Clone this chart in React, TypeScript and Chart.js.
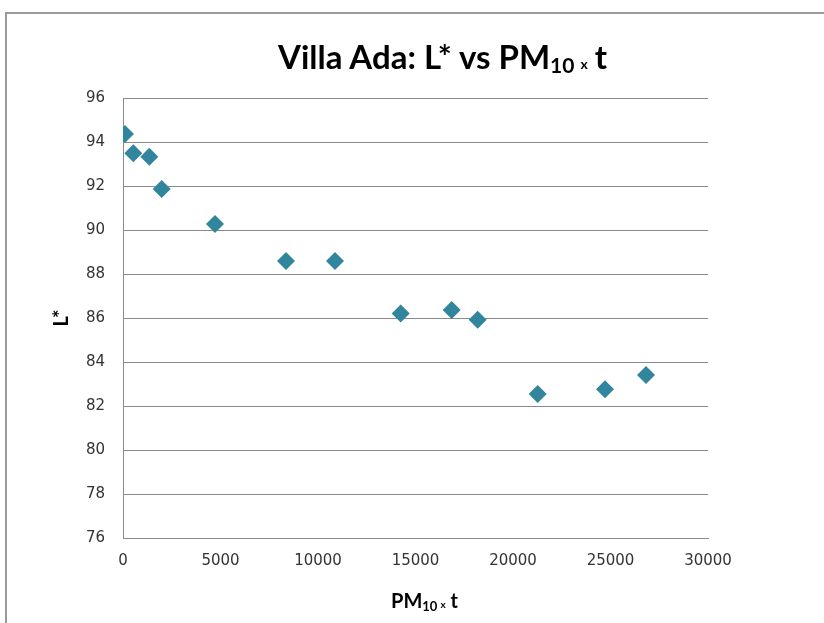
import React, { useEffect, useRef } from "react";
import { Chart, registerables } from "chart.js";

Chart.register(...registerables);

const pmTimesT = [100, 530, 1350, 1985, 4718, 8359, 10872, 14240, 16856, 18190, 21266, 24718, 26820];
const lStar = [94.36, 93.49, 93.33, 91.86, 90.27, 88.59, 88.59, 86.2, 86.36, 85.92, 82.55, 82.76, 83.41];
const xTicks = [0, 5000, 10000, 15000, 20000, 25000, 30000];
const yTicks = [76, 78, 80, 82, 84, 86, 88, 90, 92, 94, 96];

const titleFont = "Lato, 'Open Sans', sans-serif";

export default function App() {
  const canvasRef = useRef<HTMLCanvasElement | null>(null);

  useEffect(() => {
    const canvas = canvasRef.current;
    if (!canvas) return;
    const chart = new Chart(canvas, {
      type: "scatter",
      data: {
        datasets: [
          {
            label: "L*",
            data: pmTimesT.map((x, i) => ({ x, y: lStar[i] })),
            pointStyle: "rectRot",
            pointRadius: 9,
            pointHoverRadius: 9,
            backgroundColor: "#31859C",
            borderColor: "#31859C",
            borderWidth: 0,
          },
        ],
      },
      options: {
        responsive: false,
        animation: false,
        events: [],
        layout: { padding: { top: 98, right: 116, bottom: 0, left: 0 } },
        plugins: {
          legend: { display: false },
          tooltip: { enabled: false },
          title: { display: false },
        },
        scales: {
          x: {
            type: "linear",
            min: xTicks[0],
            max: xTicks[xTicks.length - 1],
            afterBuildTicks: (s: any) => {
              s.ticks = xTicks.map((v) => ({ value: v }));
            },
            ticks: {
              callback: (v: any) => String(v),
              font: { family: "'DejaVu Sans', sans-serif", size: 15 },
              color: "#333333",
              padding: 14,
              maxRotation: 0,
              autoSkip: false,
            },
            grid: { display: false, drawTicks: false },
            border: { display: true, color: "#8a8a8a", width: 1 },
            afterFit: (s: any) => {
              s.height = 623 - 538;
            },
          },
          y: {
            type: "linear",
            min: yTicks[0],
            max: yTicks[yTicks.length - 1],
            afterBuildTicks: (s: any) => {
              s.ticks = yTicks.map((v) => ({ value: v }));
            },
            ticks: {
              font: { family: "'DejaVu Sans', sans-serif", size: 15 },
              color: "#333333",
              padding: 18,
              autoSkip: false,
            },
            grid: { display: true, color: "#8a8a8a", lineWidth: 1, drawTicks: false },
            border: { display: true, color: "#8a8a8a", width: 1 },
            title: {
              display: true,
              text: "L*",
              color: "#000000",
              font: { family: titleFont, size: 20, weight: "bold" },
              padding: { top: 50, bottom: 0 },
            },
            afterFit: (s: any) => {
              s.width = 123;
            },
          },
        },
      },
    } as any);
    return () => chart.destroy();
  }, []);

  return (
    <div style={{ position: "absolute", left: 0, top: 0, width: 824, height: 623, background: "#fff", overflow: "hidden" }}>
      <div
        style={{
          position: "absolute",
          left: 5,
          top: 12,
          width: 900,
          height: 700,
          border: "2px solid #9a9a9a",
          boxSizing: "border-box",
        }}
      />
      <canvas ref={canvasRef} width={824} height={623} style={{ position: "absolute", left: 0, top: 0, width: 824, height: 623 }} />
      <div
        style={{
          position: "absolute",
          left: 278,
          top: 36,
          whiteSpace: "nowrap",
          fontFamily: titleFont,
          fontWeight: "bold",
          fontSize: 33,
          lineHeight: "40px",
          color: "#000",
        }}
      >
        Villa Ada: L* vs PM
        <span style={{ fontSize: 21, position: "relative", top: 4 }}>10</span>
        <span style={{ fontSize: 14, margin: "0 7px 0 6px" }}>x</span>t
      </div>
      <div
        style={{
          position: "absolute",
          left: 391,
          top: 588,
          whiteSpace: "nowrap",
          fontFamily: titleFont,
          fontWeight: "bold",
          fontSize: 20,
          lineHeight: "24px",
          color: "#000",
        }}
      >
        PM
        <span style={{ fontSize: 13, position: "relative", top: 3 }}>10</span>
        <span style={{ fontSize: 10, margin: "0 5px 0 3px" }}>x</span>t
      </div>
    </div>
  );
}
